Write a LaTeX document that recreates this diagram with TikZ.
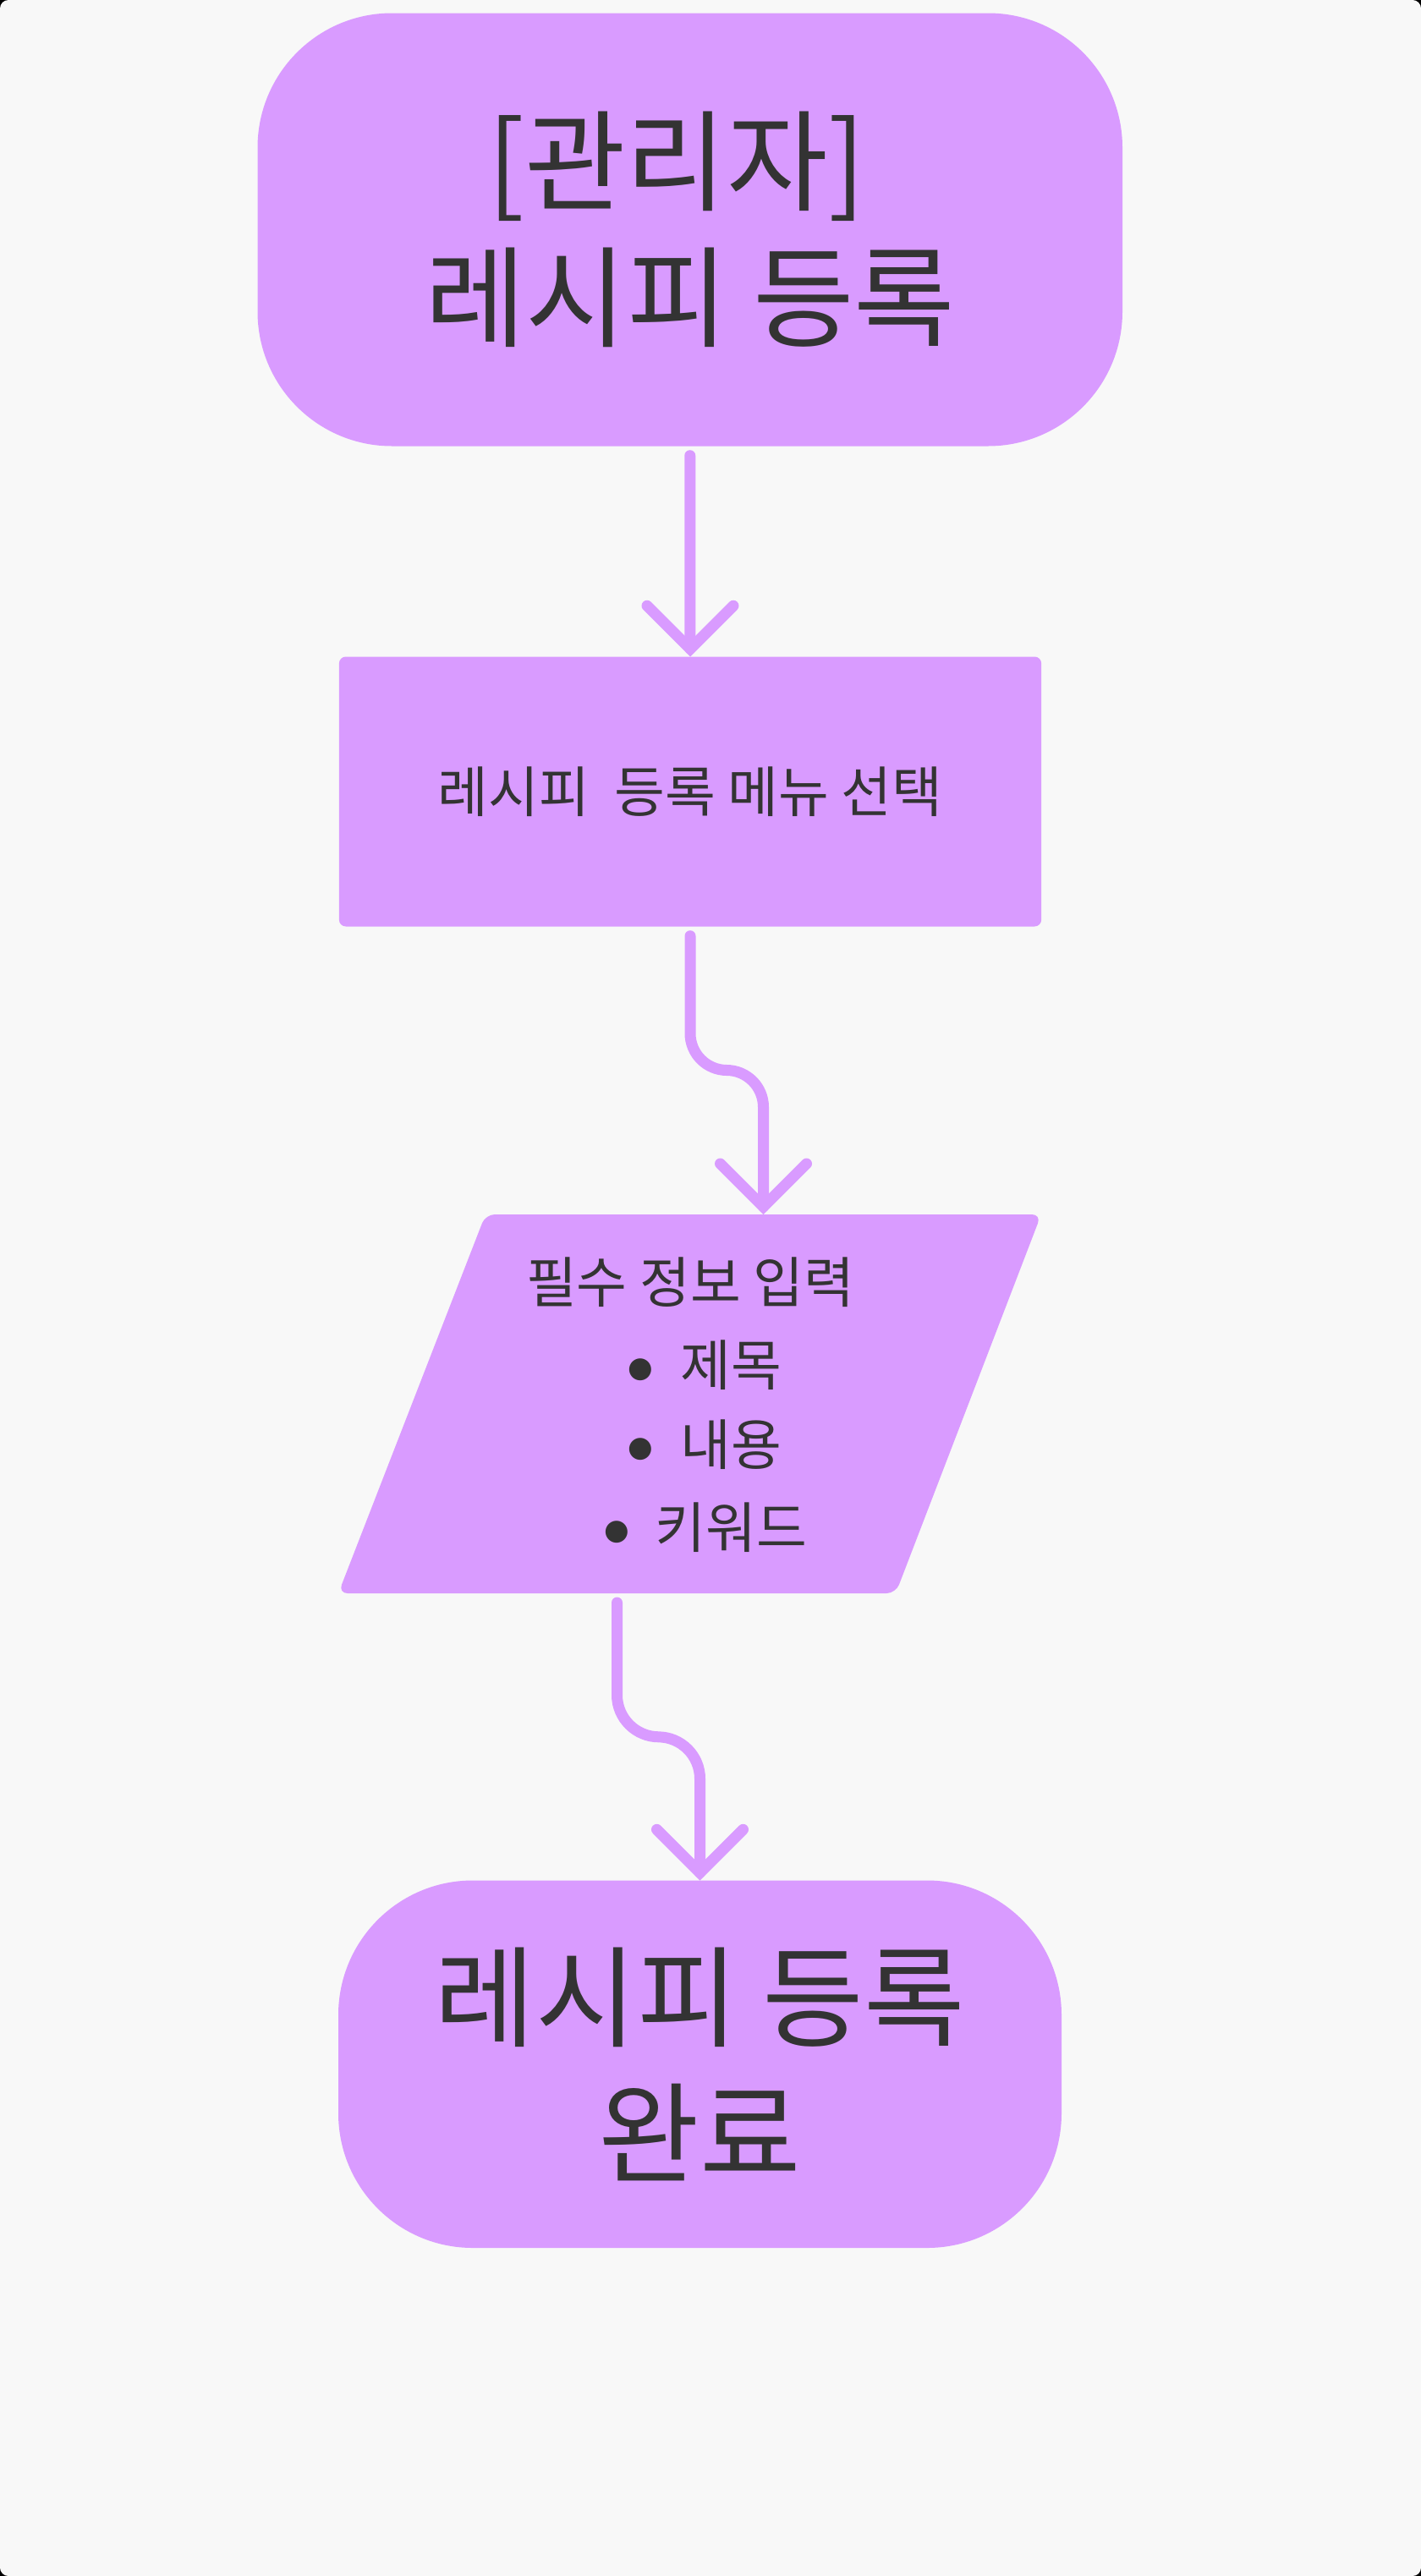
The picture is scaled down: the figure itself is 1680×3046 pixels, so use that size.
\documentclass[tikz,border=0pt]{standalone}
\usepackage{fontspec}
\newfontfamily\krfont{Noto Sans CJK KR}
\newfontfamily\dvfont{DejaVu Sans}
\usetikzlibrary{calc}
\definecolor{nodefill}{HTML}{D99BFF}
\definecolor{txtcol}{HTML}{333333}
\definecolor{bgcol}{HTML}{F8F8F8}
\begin{document}
\begin{tikzpicture}[x=1pt,y=-1pt,
  bigtext/.style={font=\krfont\fontsize{130}{161}\selectfont, text=txtcol},
  smalltext/.style={font=\krfont\fontsize{65}{80}\selectfont, text=txtcol},
  bullettext/.style={font=\dvfont\fontsize{34}{34}\selectfont, text=txtcol, inner sep=0pt, anchor=base},
  term/.style={fill=nodefill, draw=none, rounded corners=159pt, inner sep=0pt, align=center, bigtext},
  proc/.style={fill=nodefill, draw=none, rounded corners=8pt, inner sep=0pt, smalltext},
  link/.style={draw=nodefill, line width=13pt, line cap=round, line join=round},
  chev/.style={draw=nodefill, line width=13pt, line cap=round, line join=miter},
]
\useasboundingbox (0,0) rectangle (1680,3046);
\fill[black] (0,0) rectangle (1680,3046);
\fill[bgcol, rounded corners=10pt] (0,0) rectangle (1680,3046);

% nodes
\node[term, minimum width=1022.5pt, minimum height=512pt] (n1) at (815.75,271.5) {[관리자]\hspace*{32pt}\\레시피 등록};
\node[proc, minimum width=830.3pt, minimum height=319pt] (n2) at (816,936) {레시피\ \ 등록 메뉴 선택};

\coordinate (p3top) at (902.5,1436);
\coordinate (p3bot) at (729.5,1884);
\fill[nodefill, rounded corners=11pt] (p3top) -- (1231,1436) -- (1059,1884) -- (p3bot) -- (400,1884) -- (574,1436) -- cycle;
\node[smalltext, inner sep=0pt] (n3) at (816,1516.5) {필수 정보 입력};
\node[smalltext, inner sep=0pt] (n3a) at (864.3,1614) {제목};
\node[smalltext, inner sep=0pt] (n3b) at (864.5,1708.5) {내용};
\node[smalltext, inner sep=0pt] (n3c) at (864.3,1806) {키워드};
\node[bullettext] (b1) at ($(n3a.base)+(-106.6,-10)$) {●};
\node[bullettext] (b2) at ($(n3b.base)+(-106.8,-10)$) {●};
\node[bullettext] (b3) at ($(n3c.base)+(-135.3,-10)$) {●};

\node[term, minimum width=855pt, minimum height=434.5pt] (n4) at (827.5,2440.75) {레시피 등록\\완료};

% connectors
\draw[link] ($(n1.south)+(0,11)$) -- ($(n2.north)+(0,-9)$);
\draw[chev] ($(n2.north)+(-51,-60)$) -- ($(n2.north)+(0,-9)$) -- ($(n2.north)+(51,-60)$);

\draw[link, rounded corners=43.5pt] ($(n2.south)+(0,11)$) |- ($(p3top)+(0,-170.5)$) -- ($(p3top)+(0,-9)$);
\draw[chev] ($(p3top)+(-51,-60)$) -- ($(p3top)+(0,-9)$) -- ($(p3top)+(51,-60)$);

\draw[link, rounded corners=49.5pt] ($(p3bot)+(0,11)$) |- ($(n4.north)+(0,-169.5)$) -- ($(n4.north)+(0,-9)$);
\draw[chev] ($(n4.north)+(-51,-60)$) -- ($(n4.north)+(0,-9)$) -- ($(n4.north)+(51,-60)$);
\end{tikzpicture}
\end{document}
